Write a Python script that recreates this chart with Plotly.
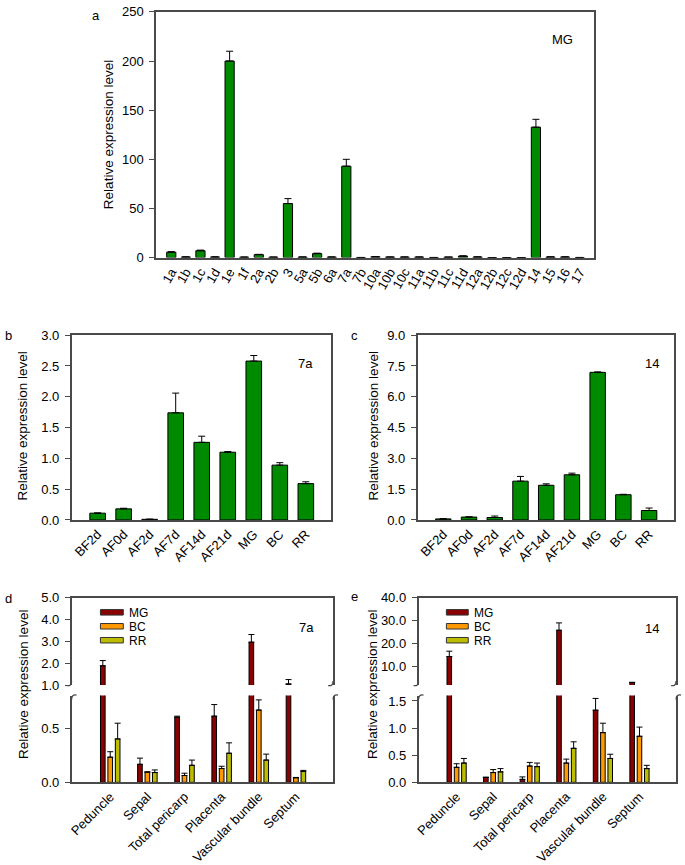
import plotly.graph_objects as go

W, H = 685, 865

# ---------------- data ----------------
a_categories = ["1a", "1b", "1c", "1d", "1e", "1f", "2a", "2b", "3", "5a", "5b", "6a", "7a", "7b",
                "10a", "10b", "10c", "11a", "11b", "11c", "11d", "12a", "12b", "12c", "12d",
                "14", "15", "16", "17"]
a_values = [5.5, 0.6, 7.0, 0.6, 200.0, 0.4, 3.0, 0.4, 55.0, 0.5, 4.0, 0.5, 93.0, 0.1,
            0.8, 0.5, 0.5, 0.5, 0.1, 0.4, 1.5, 0.6, 0.05, 0.05, 0.05,
            132.7, 0.6, 0.6, 0.1]
a_errors = [0.5, 0.1, 0.6, 0.1, 10.0, 0.1, 0.3, 0.1, 5.0, 0.1, 0.5, 0.1, 7.0, 0.0,
            0.1, 0.1, 0.1, 0.1, 0.0, 0.1, 0.2, 0.1, 0.0, 0.0, 0.0,
            8.0, 0.1, 0.1, 0.0]

stage_categories = ["BF2d", "AF0d", "AF2d", "AF7d", "AF14d", "AF21d", "MG", "BC", "RR"]
b_values = [0.11, 0.18, 0.01, 1.74, 1.26, 1.10, 2.58, 0.89, 0.59]
b_errors = [0.004, 0.01, 0.003, 0.32, 0.10, 0.01, 0.09, 0.04, 0.03]
c_values = [0.05, 0.14, 0.12, 1.89, 1.69, 2.20, 7.19, 1.23, 0.46]
c_errors = [0.01, 0.01, 0.07, 0.23, 0.07, 0.08, 0.02, 0.02, 0.12]

tissue_categories = ["Peduncle", "Sepal", "Total pericarp", "Placenta", "Vascular bundle", "Septum"]
series_names = ["MG", "BC", "RR"]

d_MG = [1.88, 0.166, 0.60, 0.61, 2.96, 1.05]
d_MG_err = [0.24, 0.057, 0.01, 0.107, 0.35, 0.20]
d_BC = [0.232, 0.093, 0.063, 0.127, 0.666, 0.042]
d_BC_err = [0.05, 0.004, 0.021, 0.021, 0.094, 0.003]
d_RR = [0.40, 0.09, 0.157, 0.268, 0.205, 0.10]
d_RR_err = [0.145, 0.024, 0.048, 0.096, 0.055, 0.01]

e_MG = [14.4, 0.09, 0.054, 25.8, 1.33, 3.05]
e_MG_err = [2.3, 0.005, 0.046, 3.2, 0.217, 0.15]
e_BC = [0.277, 0.18, 0.30, 0.355, 0.916, 0.849]
e_BC_err = [0.066, 0.055, 0.067, 0.073, 0.174, 0.169]
e_RR = [0.355, 0.193, 0.289, 0.627, 0.44, 0.253]
e_RR_err = [0.085, 0.06, 0.066, 0.12, 0.078, 0.06]

# ---------------- styles ----------------
FONT = "Liberation Sans, Arial, sans-serif"
GREEN = "#008a00"
SERIES_COLORS = ["#8b0000", "#ff9900", "#bcbc00"]
AXIS_COLOR = "#4a4a4a"
AXIS_W = 1.5
TICK_FONT = dict(family=FONT, size=13, color="black")


def X(px):
    return px / W


def Y(py):
    return 1 - py / H


fig = go.Figure()


def err(arr, w=3.5):
    return dict(type="data", array=arr, arrayminus=[0] * len(arr), symmetric=False,
                color="black", thickness=1, width=w)


# panel a
fig.add_trace(go.Bar(x=a_categories, y=a_values, error_y=err(a_errors),
                     marker=dict(color=GREEN, line=dict(color="black", width=1)),
                     width=0.63, xaxis="x", yaxis="y"))
# panel b
fig.add_trace(go.Bar(x=stage_categories, y=b_values, error_y=err(b_errors),
                     marker=dict(color=GREEN, line=dict(color="black", width=1)),
                     width=0.6, xaxis="x2", yaxis="y2"))
# panel c
fig.add_trace(go.Bar(x=stage_categories, y=c_values, error_y=err(c_errors),
                     marker=dict(color=GREEN, line=dict(color="black", width=1)),
                     width=0.6, xaxis="x3", yaxis="y3"))

# panels d and e (broken axes: lower + upper subplot share the same data)
centers = [-0.2, 0.0, 0.2]
bw = 0.125
d_series = [(d_MG, d_MG_err), (d_BC, d_BC_err), (d_RR, d_RR_err)]
e_series = [(e_MG, e_MG_err), (e_BC, e_BC_err), (e_RR, e_RR_err)]
for series, axes in ((d_series, [("x4", "y4"), ("x5", "y5")]),
                     (e_series, [("x6", "y6"), ("x7", "y7")])):
    for (vals, errs), name, col, c in zip(series, series_names, SERIES_COLORS, centers):
        for xa, ya in axes:
            fig.add_trace(go.Bar(x=tissue_categories, y=vals, name=name,
                                 error_y=err(errs, 3),
                                 marker=dict(color=col, line=dict(color="black", width=1)),
                                 width=bw, offset=c - bw / 2, xaxis=xa, yaxis=ya))


def xaxis(dom, cats, rng, angle, anchor, **kw):
    d = dict(domain=[X(dom[0]), X(dom[1])], type="category", range=rng, tickangle=angle,
             tickmode="array", tickvals=cats, ticktext=cats,
             showline=True, linecolor=AXIS_COLOR, linewidth=AXIS_W, ticks="",
             showgrid=False, zeroline=False, tickfont=TICK_FONT, anchor=anchor)
    d.update(kw)
    return d


def yaxis(dom, rng, tickvals, anchor, fmt=".1f", **kw):
    d = dict(domain=[Y(dom[1]), Y(dom[0])], range=rng, tickvals=tickvals, tickformat=fmt,
             showline=True, mirror=True, linecolor=AXIS_COLOR, linewidth=AXIS_W,
             ticks="outside", ticklen=5, tickwidth=1, tickcolor=AXIS_COLOR,
             ticklabelstandoff=3,
             showgrid=False, zeroline=False, tickfont=TICK_FONT, anchor=anchor)
    d.update(kw)
    return d


A_X = (153, 593)
B_X = (68, 329)
C_X = (416, 674)
D_X = (68, 331)
E_X = (417, 676)
BC_Y = (334, 522)
UP_Y = (601, 690)
LO_Y = (700.7, 789)

layout = dict(
    width=W, height=H, margin=dict(l=0, r=0, t=0, b=0),
    paper_bgcolor="white", plot_bgcolor="white", showlegend=False,
    barmode="overlay", font=dict(family=FONT, size=13, color="black"),
    xaxis=xaxis(A_X, a_categories, [-1.04, 28.95], -60, "y", mirror=True),
    yaxis=yaxis((5, 255), [0, 250], [0, 50, 100, 150, 200, 250], "x", fmt="d"),
    xaxis2=xaxis(B_X, stage_categories, [-1.0, 8.97], -45, "y2", mirror=True),
    yaxis2=yaxis(BC_Y, [0, 3], [0, 0.5, 1.0, 1.5, 2.0, 2.5, 3.0], "x2"),
    xaxis3=xaxis(C_X, stage_categories, [-1.0, 8.97], -45, "y3", mirror=True),
    yaxis3=yaxis(BC_Y, [0, 9], [0, 1.5, 3.0, 4.5, 6.0, 7.5, 9.0], "x3"),
    xaxis4=xaxis(D_X, tissue_categories, [-1.04, 6.0], -45, "y4"),
    yaxis4=yaxis(LO_Y, [0, 0.8], [0, 0.5], "x4"),
    xaxis5=xaxis(D_X, tissue_categories, [-1.04, 6.0], 0, "y5", side="top", showticklabels=False),
    yaxis5=yaxis(UP_Y, [1, 5], [1, 2, 3, 4, 5], "x5"),
    xaxis6=xaxis(E_X, tissue_categories, [-1.04, 6.0], -45, "y6"),
    yaxis6=yaxis(LO_Y, [0, 1.6], [0, 0.5, 1.0, 1.5], "x6"),
    xaxis7=xaxis(E_X, tissue_categories, [-1.04, 6.0], 0, "y7", side="top", showticklabels=False),
    yaxis7=yaxis(UP_Y, [2.0, 40], [10, 20, 30, 40], "x7"),
)
fig.update_layout(**layout)

annotations = []


def text(x, y, s, size=13, xanchor="center", yanchor="middle", angle=0, height=None):
    ann = dict(x=X(x), y=Y(y), xref="paper", yref="paper", text=s,
               showarrow=False, xanchor=xanchor, yanchor=yanchor,
               textangle=angle, font=dict(family=FONT, size=size, color="black"))
    if height:
        ann["height"] = height
        ann["borderpad"] = 0
    annotations.append(ann)


# panel letters
text(93, 9, "a")
text(5, 334, "b")
text(353, 334, "c")
text(5, 602, "d")
text(353, 600, "e")
# gene / stage labels inside panels
text(562, 33, "MG")
text(303, 363, "7a")
text(652, 363, "14")
text(304, 631, "7a")
text(652, 632, "14")
# y-axis titles
title = "Relative expression level"
text(105, 130, title, size=13.5, angle=-90)
text(19, 426, title, size=13.5, angle=-90)
text(372, 426, title, size=13.5, angle=-90)
text(19, 689, title, size=13.5, angle=-90)
text(370, 689, title, size=13.5, angle=-90)

shapes = []
# legends for d and e
for sx0, sx1, tx in ((97, 120, 125), (445, 467, 472)):
    for i, (name, col) in enumerate(zip(series_names, SERIES_COLORS)):
        yc = 616 + 14.2 * i
        shapes.append(dict(type="rect", xref="paper", yref="paper",
                           x0=X(sx0), x1=X(sx1), y0=Y(yc + 2.8), y1=Y(yc - 2.8),
                           fillcolor=col, line=dict(color="#333333", width=1)))
        text(tx, yc, name, size=12, xanchor="left", height=11)


# axis break marks
def p(x, y):
    return f"{X(x):.5f},{Y(y):.5f}"


for xl in (D_X[0], D_X[1], E_X[0], E_X[1]):
    yu, yl = UP_Y[1], LO_Y[0]
    path_u = f"M{p(xl, yu - 4)} Q{p(xl, yu + 1.5)} {p(xl - 5, yu + 0.5)}"
    path_l = f"M{p(xl, yl + 4)} Q{p(xl, yl - 1.5)} {p(xl + 5, yl - 0.5)}"
    for path in (path_u, path_l):
        shapes.append(dict(type="path", xref="paper", yref="paper", path=path,
                           line=dict(color=AXIS_COLOR, width=1.3)))

fig.update_layout(annotations=annotations, shapes=shapes)

fig.write_html("out.html", config={"displayModeBar": False},
               post_script="document.body.style.margin='0';document.body.style.overflow='hidden';")
